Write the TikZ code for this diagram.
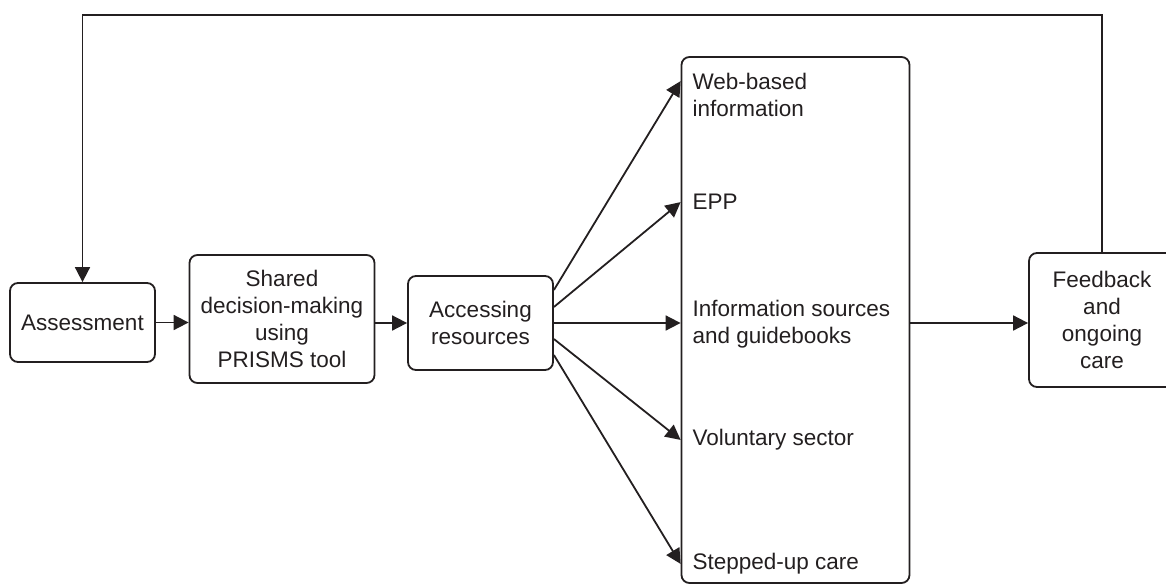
\documentclass[tikz,border=0pt]{standalone}
\usepackage{fontspec}
\setmainfont{Liberation Sans}
\usepackage{xcolor}
\usetikzlibrary{arrows.meta,positioning,calc}
\definecolor{ink}{HTML}{231F20}

\begin{document}
\begin{tikzpicture}[
    x=1pt, y=-1pt,
    font=\fontsize{22.5}{27}\selectfont,
    >={Triangle[length=15pt,width=15pt]},
    line width=1.8pt,
    draw=ink,
    text=ink,
    stage/.style={
        draw=ink,
        rounded corners=8pt,
        align=center,
        inner sep=0pt,
        minimum width=#1,
    },
    item/.style={
        anchor=west,
        align=left,
        inner sep=0pt
    },
    link/.style={->, draw=ink}
]
\clip (0,0) rectangle (1166,586);

% process stages
\node[stage=145, minimum height=79] (assess) at (82.5,322.5) {Assessment};
\node[stage=185, minimum height=128] (shared) at (282,319) {Shared\\decision-making\\using\\PRISMS tool};
\node[stage=145, minimum height=94] (access) at (480.5,323) {Accessing\\resources};
\node[stage=146, minimum height=134] (feedback) at (1102,320) {Feedback\\and\\ongoing\\care};

% resources panel
\node[draw=ink, rounded corners=8pt, minimum width=228, minimum height=526] (resbox) at (795.5,320) {};

\coordinate (tipweb) at ($(resbox.north west)+(0,25)$);
\coordinate (tipepp) at ($(resbox.north west)+(0,146)$);
\coordinate (tipinfo) at (resbox.west |- access.east);
\coordinate (tipvol) at ($(resbox.south west)+(0,-144)$);
\coordinate (tipstep) at ($(resbox.south west)+(0,-20)$);

\node[item] (web) at ($(tipweb)+(11,13.5)$) {Web-based\\information};
\node[item] (epp) at ($(tipepp)+(11,0)$) {EPP};
\node[item] (info) at ($(tipinfo)+(11,1)$) {Information sources\\and guidebooks};
\node[item] (vol) at ($(tipvol)+(11,0)$) {Voluntary sector};
\node[item] (stepped) at ($(tipstep)+(11,0)$) {Stepped-up care};

% main flow
\draw[link] (assess.east) -- (assess.east -| shared.west);
\draw[link] (shared.east |- access.west) -- (access.west);

% fan out to resources
\draw[link] ($(access.east)+(0,-33)$) -- (tipweb);
\draw[link] ($(access.east)+(0,-16)$) -- (tipepp);
\draw[link] (access.east) -- (tipinfo);
\draw[link] ($(access.east)+(0,16)$) -- (tipvol);
\draw[link] ($(access.east)+(0,32)$) -- (tipstep);

\draw[link] (tipinfo -| resbox.east) -- (tipinfo -| feedback.west);

% feedback loop
\draw[link] (feedback.north) -- (feedback.north |- 0,15) -| (assess.north);

\end{tikzpicture}
\end{document}
